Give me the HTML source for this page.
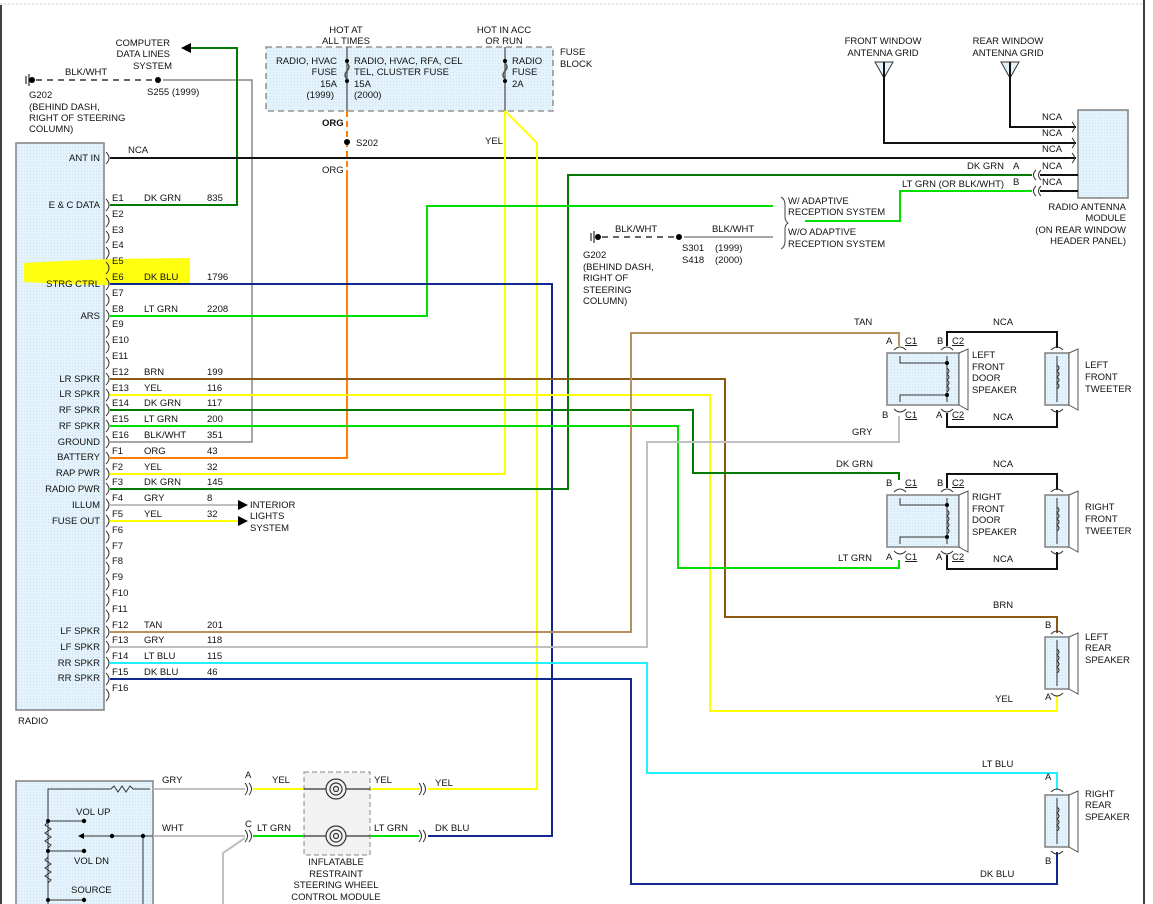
<!DOCTYPE html>
<html><head><meta charset="utf-8"><style>
html,body{margin:0;padding:0;background:#fff}
svg{display:block}
text{font-family:"Liberation Sans",sans-serif;font-size:9.5px;fill:#111}
</style></head><body>
<svg width="1153" height="904" viewBox="0 0 1153 904" xmlns="http://www.w3.org/2000/svg">
<defs>
<pattern id="dots" width="3" height="3" patternUnits="userSpaceOnUse"><rect width="3" height="3" fill="#e4f3fb"/><rect width="1" height="1" fill="#c8e4f2"/></pattern>
</defs>
<!-- borders -->
<line x1="0" y1="4" x2="1143" y2="4" stroke="#ccc" stroke-dasharray="2,2"/>
<line x1="1" y1="5" x2="1" y2="904" stroke="#000" stroke-width="1.5"/>
<line x1="1144" y1="0" x2="1144" y2="904" stroke="#000" stroke-width="1.5"/>

<!-- radio box -->
<rect x="16" y="143" width="88" height="567" fill="url(#dots)" stroke="#808080" stroke-width="1.5"/>
<text x="18" y="724">RADIO</text>

<!-- highlight -->
<path d="M24,263 L60,261 L110,259 L190,258 L190,284 L110,285 L60,284 L24,282 Z" fill="#ffff10"/>

<!-- fuse block -->
<rect x="266" y="47" width="287" height="64" fill="url(#dots)" stroke="#808080" stroke-dasharray="6,4" stroke-width="1.3"/>
<line x1="347" y1="47" x2="347" y2="111" stroke="#555" stroke-width="1.3"/>
<line x1="505" y1="47" x2="505" y2="111" stroke="#555" stroke-width="1.3"/>
<circle cx="347" cy="61" r="2" fill="#000"/><circle cx="347" cy="81" r="2" fill="#000"/>
<path d="M347,63 q4,4 0,8 q-4,4 0,8" fill="none" stroke="#555" stroke-width="1.5"/>
<circle cx="505" cy="61" r="2" fill="#000"/><circle cx="505" cy="81" r="2" fill="#000"/>
<path d="M505,63 q4,4 0,8 q-4,4 0,8" fill="none" stroke="#555" stroke-width="1.5"/>
<text x="346" y="33" text-anchor="middle">HOT AT</text>
<text x="346" y="44" text-anchor="middle">ALL TIMES</text>
<text x="504" y="33" text-anchor="middle">HOT IN ACC</text>
<text x="504" y="44" text-anchor="middle">OR RUN</text>
<text x="337" y="64" text-anchor="end">RADIO, HVAC</text>
<text x="337" y="75" text-anchor="end">FUSE</text>
<text x="337" y="87" text-anchor="end">15A</text>
<text x="334" y="98" text-anchor="end">(1999)</text>
<text x="354" y="64">RADIO, HVAC, RFA, CEL</text>
<text x="354" y="75">TEL, CLUSTER FUSE</text>
<text x="354" y="87">15A</text>
<text x="354" y="98">(2000)</text>
<text x="512" y="64">RADIO</text>
<text x="512" y="75">FUSE</text>
<text x="512" y="87">2A</text>
<text x="560" y="55">FUSE</text>
<text x="560" y="67">BLOCK</text>

<!-- top-left ground -->
<line x1="26" y1="76" x2="26" y2="84" stroke="#000"/><line x1="29" y1="74" x2="29" y2="86" stroke="#000"/>
<circle cx="32" cy="80" r="3" fill="#000"/>
<line x1="36" y1="80" x2="155" y2="80" stroke="#666" stroke-width="2" stroke-dasharray="6,5"/>
<circle cx="158" cy="80" r="3" fill="#000"/>
<polyline points="163,80 252,80 252,442 110,442" fill="none" stroke="#888" stroke-width="1.5"/>
<text x="65" y="75">BLK/WHT</text>
<text x="29" y="98">G202</text>
<text x="29" y="110">(BEHIND DASH,</text>
<text x="29" y="121">RIGHT OF STEERING</text>
<text x="29" y="132">COLUMN)</text>
<text x="147" y="95">S255  (1999)</text>
<text x="170" y="46" text-anchor="end">COMPUTER</text>
<text x="170" y="57" text-anchor="end">DATA LINES</text>
<text x="172" y="69" text-anchor="end">SYSTEM</text>
<polygon points="181,48 191,43 191,53" fill="#000"/>
<polyline points="191,48 237,48 237,205 110,205" fill="none" stroke="#007a00" stroke-width="2"/>

<!-- ANT IN -->
<line x1="110" y1="158" x2="1076" y2="158" stroke="#111" stroke-width="2"/>
<text x="128" y="153">NCA</text>

<!-- orange -->
<line x1="347" y1="111" x2="347" y2="170" stroke="#ff8000" stroke-width="2" stroke-dasharray="6,4"/>
<polyline points="347,170 347,458 110,458" fill="none" stroke="#ff8000" stroke-width="2"/>
<circle cx="347" cy="142" r="3" fill="#000"/>
<text x="356" y="146">S202</text>
<text x="322" y="126" style="font-weight:bold">ORG</text>
<text x="322" y="173">ORG</text>

<!-- yellow from radio fuse -->
<polyline points="505,111 505,474 110,474" fill="none" stroke="#ffff00" stroke-width="2"/>
<polyline points="505,111 537,143 537,789 428,789" fill="none" stroke="#ffff00" stroke-width="2"/>
<text x="485" y="144">YEL</text>

<!-- DK GRN radio pwr -->
<polyline points="110,489 568,489 568,175 1032,175" fill="none" stroke="#007a00" stroke-width="2"/>

<!-- ARS lt grn -->
<polyline points="110,316 427,316 427,206 773,206" fill="none" stroke="#00e000" stroke-width="2"/>
<polyline points="805,221 900,221 900,191 1032,191" fill="none" stroke="#00e000" stroke-width="2"/>

<!-- STRG CTRL dk blu -->
<polyline points="110,284 552,284 552,836 428,836" fill="none" stroke="#102890" stroke-width="2"/>

<!-- speaker wires -->
<polyline points="110,379 725,379 725,617 1057,617 1057,633" fill="none" stroke="#8b5a10" stroke-width="2"/>
<polyline points="110,395 710,395 710,711 1057,711 1057,695" fill="none" stroke="#ffff00" stroke-width="2"/>
<polyline points="110,410 693,410 693,473 899,473 899,480" fill="none" stroke="#007a00" stroke-width="2"/>
<polyline points="110,426 678,426 678,568 899,568 899,560" fill="none" stroke="#00e000" stroke-width="2"/>
<polyline points="110,632 631,632 631,333 899,333 899,346" fill="none" stroke="#b89060" stroke-width="2"/>
<polyline points="110,647 647,647 647,442 899,442 899,416" fill="none" stroke="#c0c0c0" stroke-width="2"/>
<polyline points="110,663 647,663 647,773 1057,773 1057,790" fill="none" stroke="#20f0ff" stroke-width="2"/>
<polyline points="110,679 631,679 631,884 1057,884 1057,852" fill="none" stroke="#102890" stroke-width="2"/>

<!-- interior lights -->
<line x1="110" y1="505" x2="238" y2="505" stroke="#c0c0c0" stroke-width="2"/>
<line x1="110" y1="521" x2="238" y2="521" stroke="#ffff00" stroke-width="2"/>
<polygon points="248,505 238,500 238,510" fill="#000"/>
<polygon points="248,521 238,516 238,526" fill="#000"/>
<text x="250" y="508">INTERIOR</text>
<text x="250" y="519">LIGHTS</text>
<text x="250" y="531">SYSTEM</text>

<!-- function labels -->
<g text-anchor="end">
<text x="100" y="161">ANT IN</text>
<text x="100" y="208">E &amp; C DATA</text>
<text x="100" y="287">STRG CTRL</text>
<text x="100" y="319">ARS</text>
<text x="100" y="382">LR SPKR</text>
<text x="100" y="397">LR SPKR</text>
<text x="100" y="413">RF SPKR</text>
<text x="100" y="429">RF SPKR</text>
<text x="100" y="445">GROUND</text>
<text x="100" y="460">BATTERY</text>
<text x="100" y="476">RAP PWR</text>
<text x="100" y="492">RADIO PWR</text>
<text x="100" y="508">ILLUM</text>
<text x="100" y="524">FUSE OUT</text>
<text x="100" y="634">LF SPKR</text>
<text x="100" y="650">LF SPKR</text>
<text x="100" y="666">RR SPKR</text>
<text x="100" y="681">RR SPKR</text>
</g>

<!-- pin brackets -->
<g fill="none" stroke="#333" stroke-width="1">
<path d="M106,152 q6,6 0,12"/>
<path d="M106,199 q6,6 0,12"/><path d="M106,215 q6,6 0,12"/><path d="M106,231 q6,6 0,12"/><path d="M106,247 q6,6 0,12"/>
<path d="M106,262 q6,6 0,12"/><path d="M106,278 q6,6 0,12"/><path d="M106,294 q6,6 0,12"/><path d="M106,310 q6,6 0,12"/>
<path d="M106,326 q6,6 0,12"/><path d="M106,341 q6,6 0,12"/><path d="M106,357 q6,6 0,12"/><path d="M106,373 q6,6 0,12"/>
<path d="M106,389 q6,6 0,12"/><path d="M106,404 q6,6 0,12"/><path d="M106,420 q6,6 0,12"/><path d="M106,436 q6,6 0,12"/>
<path d="M106,452 q6,6 0,12"/><path d="M106,468 q6,6 0,12"/><path d="M106,483 q6,6 0,12"/><path d="M106,499 q6,6 0,12"/>
<path d="M106,515 q6,6 0,12"/><path d="M106,531 q6,6 0,12"/><path d="M106,547 q6,6 0,12"/><path d="M106,562 q6,6 0,12"/>
<path d="M106,578 q6,6 0,12"/><path d="M106,594 q6,6 0,12"/><path d="M106,610 q6,6 0,12"/><path d="M106,626 q6,6 0,12"/>
<path d="M106,641 q6,6 0,12"/><path d="M106,657 q6,6 0,12"/><path d="M106,673 q6,6 0,12"/><path d="M106,689 q6,6 0,12"/>
</g>

<!-- pin labels -->
<g>
<text x="112" y="201">E1</text><text x="112" y="217">E2</text><text x="112" y="233">E3</text><text x="112" y="248">E4</text>
<text x="112" y="264">E5</text><text x="112" y="280">E6</text><text x="112" y="296">E7</text><text x="112" y="312">E8</text>
<text x="112" y="327">E9</text><text x="112" y="343">E10</text><text x="112" y="359">E11</text><text x="112" y="375">E12</text>
<text x="112" y="391">E13</text><text x="112" y="406">E14</text><text x="112" y="422">E15</text><text x="112" y="438">E16</text>
<text x="112" y="454">F1</text><text x="112" y="470">F2</text><text x="112" y="485">F3</text><text x="112" y="501">F4</text>
<text x="112" y="517">F5</text><text x="112" y="533">F6</text><text x="112" y="549">F7</text><text x="112" y="564">F8</text>
<text x="112" y="580">F9</text><text x="112" y="596">F10</text><text x="112" y="612">F11</text><text x="112" y="628">F12</text>
<text x="112" y="643">F13</text><text x="112" y="659">F14</text><text x="112" y="675">F15</text><text x="112" y="691">F16</text>
</g>
<g>
<text x="144" y="201">DK GRN</text><text x="207" y="201">835</text>
<text x="144" y="280">DK BLU</text><text x="207" y="280">1796</text>
<text x="144" y="312">LT GRN</text><text x="207" y="312">2208</text>
<text x="144" y="375">BRN</text><text x="207" y="375">199</text>
<text x="144" y="391">YEL</text><text x="207" y="391">116</text>
<text x="144" y="406">DK GRN</text><text x="207" y="406">117</text>
<text x="144" y="422">LT GRN</text><text x="207" y="422">200</text>
<text x="144" y="438">BLK/WHT</text><text x="207" y="438">351</text>
<text x="144" y="454">ORG</text><text x="207" y="454">43</text>
<text x="144" y="470">YEL</text><text x="207" y="470">32</text>
<text x="144" y="485">DK GRN</text><text x="207" y="485">145</text>
<text x="144" y="501">GRY</text><text x="207" y="501">8</text>
<text x="144" y="517">YEL</text><text x="207" y="517">32</text>
<text x="144" y="628">TAN</text><text x="207" y="628">201</text>
<text x="144" y="643">GRY</text><text x="207" y="643">118</text>
<text x="144" y="659">LT BLU</text><text x="207" y="659">115</text>
<text x="144" y="675">DK BLU</text><text x="207" y="675">46</text>
</g>

<!-- antennas -->
<polygon points="875,62 893,62 884,78" fill="#e4f3fb" stroke="#333"/>
<polygon points="1001,62 1019,62 1010,78" fill="#e4f3fb" stroke="#333"/>
<polyline points="884,62 884,143 1076,143" fill="none" stroke="#111" stroke-width="2"/>
<polyline points="1010,62 1010,127 1076,127" fill="none" stroke="#111" stroke-width="2"/>
<text x="883" y="44" text-anchor="middle">FRONT WINDOW</text>
<text x="883" y="56" text-anchor="middle">ANTENNA GRID</text>
<text x="1008" y="44" text-anchor="middle">REAR WINDOW</text>
<text x="1008" y="56" text-anchor="middle">ANTENNA GRID</text>
<rect x="1078" y="110" width="50" height="88" fill="url(#dots)" stroke="#808080" stroke-width="1.5"/>
<g fill="none" stroke="#333">
<path d="M1072,122 q5,5 0,10"/><path d="M1072,138 q5,5 0,10"/><path d="M1072,153 q5,5 0,10"/>
<path d="M1036,170 q-5,5 0,10"/><path d="M1041,170 q-5,5 0,10"/>
<path d="M1036,186 q-5,5 0,10"/><path d="M1041,186 q-5,5 0,10"/>
</g>
<line x1="1040" y1="175" x2="1078" y2="175" stroke="#111" stroke-width="2"/>
<line x1="1040" y1="191" x2="1078" y2="191" stroke="#111" stroke-width="2"/>
<text x="1042" y="120">NCA</text><text x="1042" y="136">NCA</text><text x="1042" y="152">NCA</text>
<text x="1042" y="169">NCA</text><text x="1042" y="185">NCA</text>
<text x="967" y="169">DK GRN</text><text x="1013" y="169">A</text>
<text x="902" y="187">LT GRN (OR BLK/WHT)</text><text x="1013" y="185">B</text>
<g text-anchor="end">
<text x="1126" y="210">RADIO ANTENNA</text><text x="1126" y="221">MODULE</text>
<text x="1126" y="233">(ON REAR WINDOW</text><text x="1126" y="244">HEADER PANEL)</text>
</g>

<!-- adaptive reception -->
<path d="M781,197 q4,2 4,8 v12 q0,4 3,6 q-3,2 -3,6 v12 q0,6 -4,8" fill="none" stroke="#444"/>
<text x="788" y="204">W/ ADAPTIVE</text><text x="788" y="215">RECEPTION SYSTEM</text>
<text x="788" y="235">W/O ADAPTIVE</text><text x="788" y="247">RECEPTION SYSTEM</text>
<line x1="591" y1="233" x2="591" y2="241" stroke="#000"/><line x1="594" y1="231" x2="594" y2="243" stroke="#000"/>
<circle cx="598" cy="237" r="3" fill="#000"/>
<line x1="602" y1="237" x2="676" y2="237" stroke="#666" stroke-width="2" stroke-dasharray="6,5"/>
<circle cx="679" cy="237" r="3" fill="#000"/>
<line x1="684" y1="237" x2="773" y2="237" stroke="#888" stroke-width="1.5"/>
<text x="615" y="232">BLK/WHT</text><text x="712" y="232">BLK/WHT</text>
<text x="682" y="251">S301</text><text x="715" y="251">(1999)</text>
<text x="682" y="263">S418</text><text x="715" y="263">(2000)</text>
<text x="583" y="258">G202</text><text x="583" y="270">(BEHIND DASH,</text>
<text x="583" y="281">RIGHT OF</text><text x="583" y="293">STEERING</text><text x="583" y="304">COLUMN)</text>

<!-- front speakers -->
<g id="lf">
<polyline points="947,346 947,332 1057,332 1057,348" fill="none" stroke="#111" stroke-width="2"/>
<polyline points="947,413 947,427 1057,427 1057,410" fill="none" stroke="#111" stroke-width="2"/>
<rect x="887" y="353" width="72" height="52" fill="url(#dots)" stroke="#808080" stroke-width="1.5"/>
<polygon points="959,353 968,349 968,410 959,405" fill="#fff" stroke="#555"/>
<rect x="1045" y="353" width="24" height="52" fill="url(#dots)" stroke="#808080" stroke-width="1.5"/>
<polygon points="1069,353 1078,349 1078,410 1069,405" fill="#fff" stroke="#555"/>
<g fill="none" stroke="#333">
<path d="M894,350 q6,-6 12,0"/><path d="M941,350 q6,-6 12,0"/>
<path d="M894,409 q6,6 12,0"/><path d="M941,409 q6,6 12,0"/>
<path d="M1051,350 q6,-6 12,0"/><path d="M1051,409 q6,6 12,0"/>
<polyline points="900,356 900,363 947,363"/><polyline points="900,402 900,395 947,395"/>
<line x1="947" y1="356" x2="947" y2="402"/>
<path d="M947,368 q4,3 0,6 q4,3 0,6 q4,3 0,6 q4,3 0,6"/>
<line x1="1057" y1="356" x2="1057" y2="402"/>
<path d="M1057,365 q4,3 0,6 q4,3 0,6 q4,3 0,6 q4,3 0,6"/>
</g>
<circle cx="947" cy="363" r="2" fill="#000"/><circle cx="947" cy="395" r="2" fill="#000"/>
<text x="937" y="344">B</text><text x="952" y="344" text-decoration="underline">C2</text>
<text x="905" y="344" text-decoration="underline">C1</text>
<text x="936" y="418">A</text><text x="952" y="418" text-decoration="underline">C2</text>
<text x="905" y="418" text-decoration="underline">C1</text>
<text x="993" y="325">NCA</text><text x="993" y="420">NCA</text>
</g>
<text x="886" y="344">A</text><text x="882" y="418">B</text>
<text x="972" y="358">LEFT</text><text x="972" y="370">FRONT</text><text x="972" y="381">DOOR</text><text x="972" y="393">SPEAKER</text>
<text x="1085" y="368">LEFT</text><text x="1085" y="380">FRONT</text><text x="1085" y="392">TWEETER</text>
<use href="#lf" transform="translate(0,142)"/>
<text x="886" y="486">B</text><text x="886" y="560">A</text>
<text x="972" y="500">RIGHT</text><text x="972" y="512">FRONT</text><text x="972" y="523">DOOR</text><text x="972" y="535">SPEAKER</text>
<text x="1085" y="510">RIGHT</text><text x="1085" y="522">FRONT</text><text x="1085" y="534">TWEETER</text>
<text x="854" y="325">TAN</text><text x="852" y="435">GRY</text>
<text x="836" y="467">DK GRN</text><text x="838" y="561">LT GRN</text>

<!-- rear speakers -->
<g id="rs">
<rect x="1045" y="637" width="24" height="52" fill="url(#dots)" stroke="#808080" stroke-width="1.5"/>
<polygon points="1069,637 1078,633 1078,694 1069,689" fill="#fff" stroke="#555"/>
<g fill="none" stroke="#333">
<path d="M1051,634 q6,-6 12,0"/><path d="M1051,693 q6,6 12,0"/>
<line x1="1057" y1="640" x2="1057" y2="686"/>
<path d="M1057,649 q4,3 0,6 q4,3 0,6 q4,3 0,6 q4,3 0,6"/>
</g>
</g>
<use href="#rs" transform="translate(0,158)"/>
<text x="1045" y="628">B</text><text x="1045" y="700">A</text>
<text x="1045" y="780">A</text><text x="1045" y="864">B</text>
<text x="1085" y="640">LEFT</text><text x="1085" y="651">REAR</text><text x="1085" y="663">SPEAKER</text>
<text x="1085" y="797">RIGHT</text><text x="1085" y="808">REAR</text><text x="1085" y="820">SPEAKER</text>
<text x="993" y="608">BRN</text><text x="995" y="702">YEL</text>
<text x="982" y="767">LT BLU</text><text x="980" y="877">DK BLU</text>

<!-- bottom-left switch -->
<rect x="16" y="781" width="137" height="130" fill="url(#dots)" stroke="#808080" stroke-width="1.5"/>
<g fill="none" stroke="#333" stroke-width="1">
<polyline points="48,904 48,789 111,789"/>
<path d="M111,789 l3,-3 l4,6 l4,-6 l4,6 l4,-6 l3,3 h17"/>
<path d="M48,822 l-3,3 l6,4 l-6,4 l6,4 l-6,4 l6,4 l-3,3"/>
<path d="M48,857 l-3,3 l6,4 l-6,4 l6,4 l-6,4 l6,4 l-3,3"/>
<line x1="48" y1="821" x2="84" y2="821"/><line x1="48" y1="851" x2="84" y2="851"/><line x1="48" y1="900" x2="84" y2="900"/>
<line x1="80" y1="836" x2="153" y2="836"/><line x1="143" y1="836" x2="143" y2="904"/>
</g>
<circle cx="48" cy="821" r="2" fill="#000"/><circle cx="84" cy="821" r="2.2" fill="#000"/>
<circle cx="48" cy="851" r="2" fill="#000"/><circle cx="84" cy="851" r="2.2" fill="#000"/>
<circle cx="48" cy="900" r="2" fill="#000"/><circle cx="84" cy="900" r="2.2" fill="#000"/>
<polygon points="78,836 84,833 84,839" fill="#000"/>
<circle cx="112" cy="836" r="2.2" fill="#000"/><circle cx="143" cy="836" r="2.2" fill="#000"/>
<text x="76" y="815">VOL UP</text><text x="74" y="864">VOL DN</text><text x="71" y="893">SOURCE</text>

<line x1="153" y1="789" x2="245" y2="789" stroke="#c0c0c0" stroke-width="2"/>
<line x1="153" y1="836" x2="245" y2="836" stroke="#c0c0c0" stroke-width="2"/>
<polyline points="245,838 223,853 223,904" fill="none" stroke="#c0c0c0" stroke-width="2"/>
<g fill="none" stroke="#333">
<path d="M245,783 q5,6 0,12"/><path d="M249,783 q5,6 0,12"/>
<path d="M245,830 q5,6 0,12"/><path d="M249,830 q5,6 0,12"/>
<path d="M419,783 q5,6 0,12"/><path d="M423,783 q5,6 0,12"/>
<path d="M419,830 q5,6 0,12"/><path d="M423,830 q5,6 0,12"/>
</g>
<line x1="253" y1="789" x2="304" y2="789" stroke="#ffff00" stroke-width="2"/>
<line x1="370" y1="789" x2="419" y2="789" stroke="#ffff00" stroke-width="2"/>
<line x1="253" y1="836" x2="304" y2="836" stroke="#00e000" stroke-width="2"/>
<line x1="370" y1="836" x2="419" y2="836" stroke="#00e000" stroke-width="2"/>
<rect x="304" y="772" width="66" height="83" fill="#f2f2f2" stroke="#888" stroke-dasharray="5,3"/>
<g fill="none" stroke="#333" stroke-width="1.2">
<line x1="304" y1="789" x2="326" y2="789"/><line x1="346" y1="789" x2="370" y2="789"/>
<line x1="304" y1="836" x2="326" y2="836"/><line x1="346" y1="836" x2="370" y2="836"/>
<circle cx="336" cy="789" r="10"/><circle cx="336" cy="789" r="6"/><circle cx="336" cy="789" r="2.5"/>
<circle cx="336" cy="836" r="10"/><circle cx="336" cy="836" r="6"/><circle cx="336" cy="836" r="2.5"/>
</g>
<text x="162" y="783">GRY</text><text x="162" y="831">WHT</text>
<text x="245" y="778">A</text><text x="245" y="827">C</text>
<text x="272" y="783">YEL</text><text x="257" y="831">LT GRN</text>
<text x="374" y="783">YEL</text><text x="374" y="831">LT GRN</text>
<text x="435" y="786">YEL</text><text x="435" y="831">DK BLU</text>
<g text-anchor="middle">
<text x="336" y="865">INFLATABLE</text><text x="336" y="877">RESTRAINT</text>
<text x="336" y="888">STEERING WHEEL</text><text x="336" y="900">CONTROL MODULE</text>
</g>
</svg>
</body></html>
